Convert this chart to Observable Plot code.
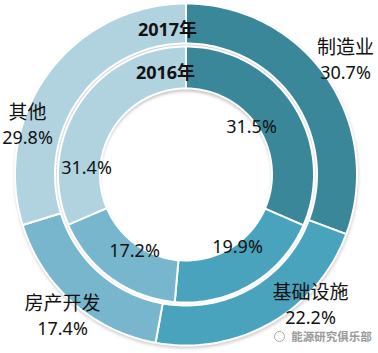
<!DOCTYPE html>
<html><head><meta charset="utf-8">
<script src="https://cdn.jsdelivr.net/npm/d3@7"></script>
<script src="https://cdn.jsdelivr.net/npm/@observablehq/plot@0.6"></script>
<style>body{margin:0;background:#fff;} #chart{width:378px;height:353px;}</style>
</head><body><div id="chart"></div>
<script>
// ---- data ----
const categories = ["制造业", "基础设施", "房产开发", "其他"];
const values2017 = [30.7, 22.2, 17.4, 29.8];
const values2016 = [31.5, 19.9, 17.2, 31.4];
const yearLabels = ["2017年", "2016年"];
const colors = ["#3a879a", "#49a3bd", "#77b6cd", "#b0d3df"];
const watermark = "能源研究俱乐部";

// ---- layout ----
const W = 378, H = 353, cx = 185.5, cy = 174;
const rings = [
  {year: yearLabels[0], values: values2017, r0: 131, r1: 171},
  {year: yearLabels[1], values: values2016, r0: 86, r1: 128}
];
const outerLabelPos = [[345, 47, 73], [310, 292, 318], [62, 303, 329], [27, 112, 138]];
const innerLabelPos = [[251, 127], [237, 247], [134, 251], [86, 168]];
const yearPos = [[167, 30], [165, 73]];

function sectorPoints(key, cat, a0, a1, r0, r1, out) {
  const n = Math.max(6, Math.ceil((a1 - a0) / (Math.PI / 120)));
  for (let i = 0; i <= n; i++) {
    const a = a0 + (a1 - a0) * i / n;
    out.push({key, cat, x: cx + r1 * Math.sin(a), y: cy - r1 * Math.cos(a)});
  }
  for (let i = n; i >= 0; i--) {
    const a = a0 + (a1 - a0) * i / n;
    out.push({key, cat, x: cx + r0 * Math.sin(a), y: cy - r0 * Math.cos(a)});
  }
}

const slices = [];
rings.forEach((ring, ri) => {
  const total = d3.sum(ring.values);
  let acc = 0;
  ring.values.forEach((v, i) => {
    const a0 = acc / total * 2 * Math.PI;
    acc += v;
    const a1 = acc / total * 2 * Math.PI;
    sectorPoints(ri + "-" + i, categories[i], a0, a1, ring.r0, ring.r1, slices);
  });
});

// shadow ring below the outer ring
const shadow = [];
sectorPoints("sh", "sh", 0, 2 * Math.PI, 129, 172, shadow);
shadow.forEach(d => { d.y += 2; d.x += 0.5; });
// shadow cast into the hole
const holeShadow = [];
sectorPoints("hs", "hs", 0, 2 * Math.PI, 86, 90, holeShadow);
holeShadow.forEach(d => { d.y += 3; });

const outerNames = categories.map((c, i) => ({t: c, x: outerLabelPos[i][0], y: outerLabelPos[i][1]}));
const outerPcts = values2017.map((v, i) => ({t: v.toFixed(1) + "%", x: outerLabelPos[i][0], y: outerLabelPos[i][2]}));
const innerPcts = values2016.map((v, i) => ({t: v.toFixed(1) + "%", x: innerLabelPos[i][0], y: innerLabelPos[i][1]}));
const years = yearLabels.map((t, i) => ({t, x: yearPos[i][0], y: yearPos[i][1]}));

const font = "'Noto Sans', 'Noto Sans CJK SC', sans-serif";

const chart = Plot.plot({
  width: W, height: H,
  margin: 0,
  x: {domain: [0, W], range: [0, W], axis: null},
  y: {domain: [0, H], range: [0, H], axis: null},
  color: {domain: categories, range: colors},
  style: {fontFamily: font, background: "#fff"},
  marks: [
    Plot.line(shadow, {x: "x", y: "y", z: "key", fill: "#9a9a9a", fillOpacity: 0.45, stroke: "none", curve: "linear-closed", imageFilter: "blur(1.5px)"}),
    Plot.line(holeShadow, {x: "x", y: "y", z: "key", fill: "#8a8a8a", fillOpacity: 0.5, stroke: "none", curve: "linear-closed", imageFilter: "blur(1.5px)"}),
    Plot.line(slices, {x: "x", y: "y", z: "key", fill: "cat", stroke: "white", strokeWidth: 2, curve: "linear-closed"}),
    Plot.text(years, {x: "x", y: "y", text: "t", fontSize: 18, fontWeight: "bold", fill: "#111"}),
    Plot.text(outerNames, {x: "x", y: "y", text: "t", fontSize: 19, fill: "#111"}),
    Plot.text(outerPcts, {x: "x", y: "y", text: "t", fontSize: 18, fill: "#111"}),
    Plot.text(innerPcts, {x: "x", y: "y", text: "t", fontSize: 18, fill: "#111"}),
    Plot.dot([{x: 279, y: 336}], {x: "x", y: "y", r: 5, stroke: "#aaa", strokeWidth: 1, fill: "none"}),
    Plot.text([{t: watermark, x: 331, y: 337}], {x: "x", y: "y", text: "t", fontSize: 11.5, fill: "#999", fontWeight: "bold"})
  ]
});
document.getElementById("chart").appendChild(chart);
</script>
</body></html>
